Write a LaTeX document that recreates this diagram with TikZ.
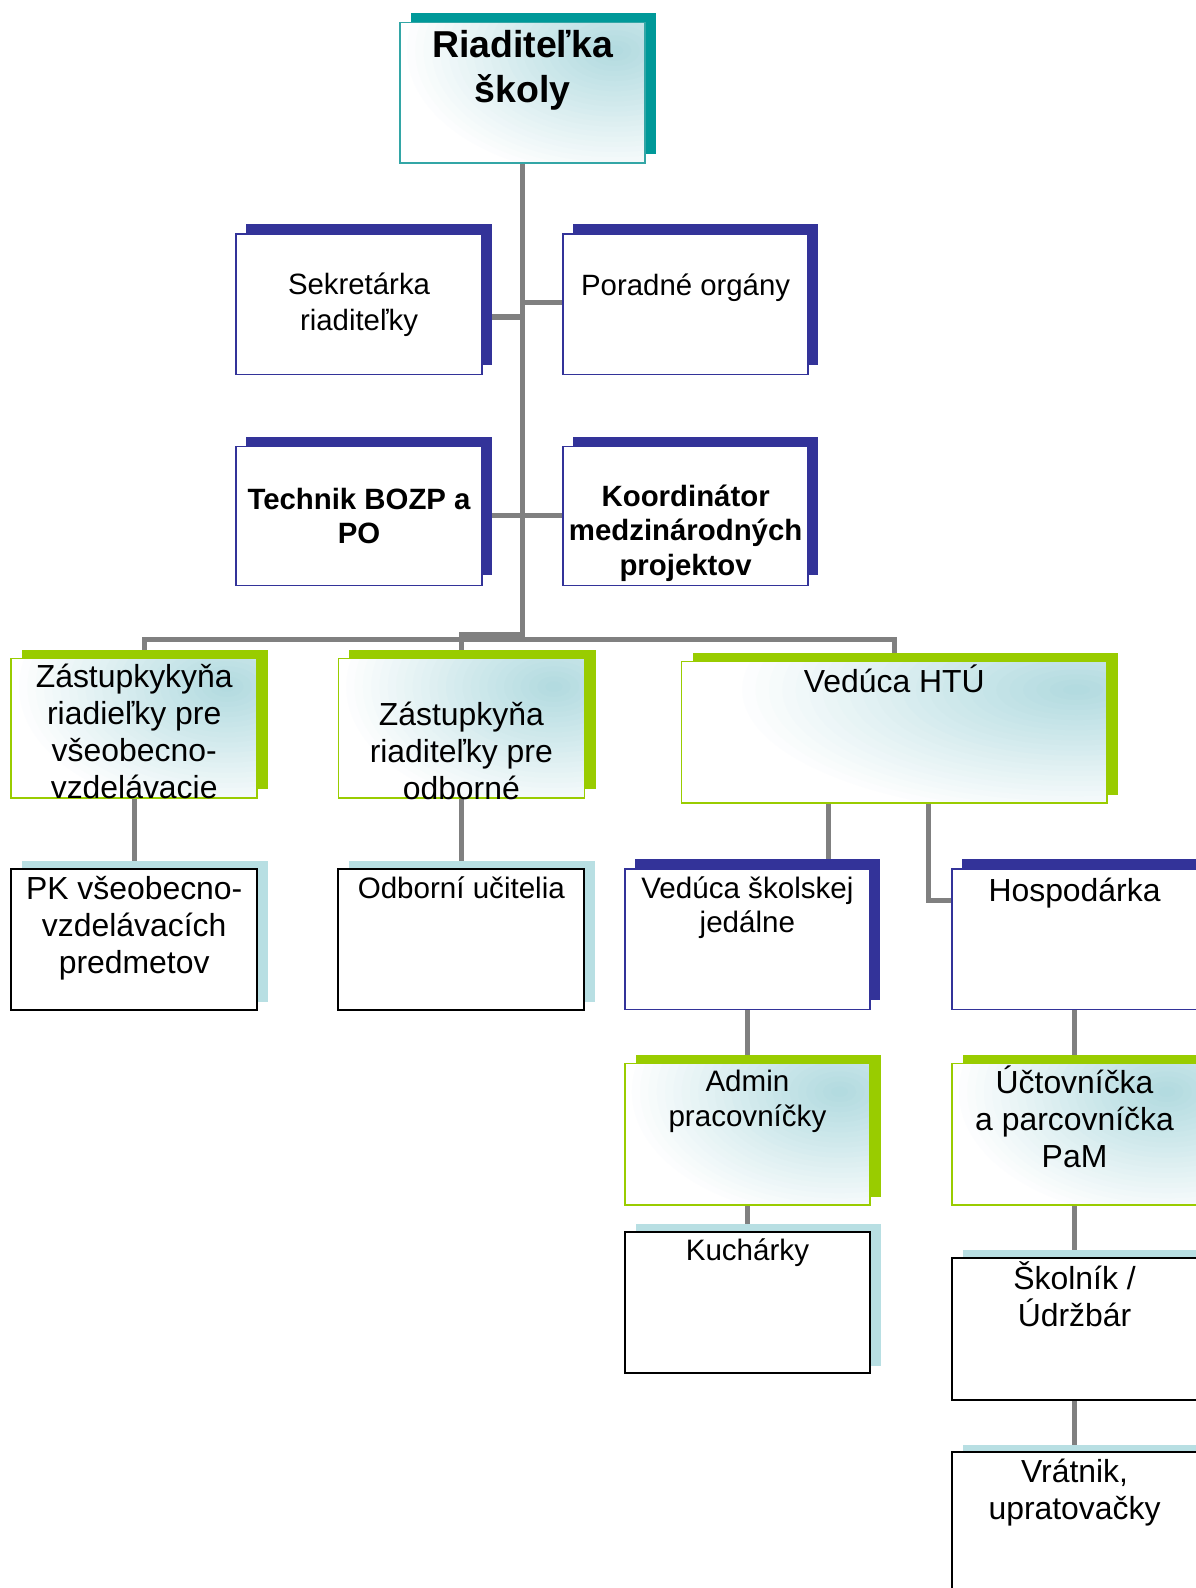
\documentclass[tikz,border=0pt]{standalone}
\usepackage{fontspec}
\setmainfont{Liberation Sans}
\usetikzlibrary{shadows,backgrounds,calc}
\definecolor{tealc}{HTML}{009999}
\definecolor{tealb}{HTML}{33A6A6}
\definecolor{navyc}{HTML}{333399}
\definecolor{greenc}{HTML}{99CC00}
\definecolor{lblue}{HTML}{B8DFE3}
\definecolor{gradc}{HTML}{B3DBE0}
\definecolor{connc}{HTML}{808080}
\newcommand\boxtext[4]{\parbox[c][#2pt][t]{#1pt}{\centering\rule{0pt}{#3pt}#4\par}}
\tikzset{
  base/.style={inner sep=0pt, outer sep=0pt},
  grad/.style={fill=white, path picture={
    \coordinate (glowc) at ($(path picture bounding box.north east)+(-30,28)$);
    \foreach \k in {1,...,25}{
      \pgfmathtruncatemacro\pc{4*\k}
      \pgfmathsetmacro\rx{#1*(26-\k)/25}
      \pgfmathsetmacro\ry{125*(26-\k)/25}
      \fill[gradc!\pc!white] (glowc) ellipse (\rx pt and \ry pt);
    }}},
  grad/.default=205,
  tealbox/.style={base, grad, draw=tealb, line width=1.5pt,
    general shadow={fill=tealc, shadow xshift=11pt, shadow yshift=9pt}},
  greenbox/.style={base, grad=#1, draw=greenc, line width=1.5pt,
    general shadow={fill=greenc, shadow xshift=11pt, shadow yshift=8.5pt}},
  greenbox/.default=205,
  navybox/.style={base, fill=white, draw=navyc, line width=1.5pt,
    general shadow={fill=navyc, shadow xshift=10pt, shadow yshift=10pt}},
  lbluebox/.style={base, fill=white, draw=black, line width=2pt,
    general shadow={fill=lblue, shadow xshift=10.5pt, shadow yshift=7.5pt}},
  big/.style={font=\fontsize{37}{44}\selectfont\bfseries},
  mid/.style={font=\fontsize{29}{35}\selectfont},
  midb/.style={font=\fontsize{29}{34}\selectfont\bfseries},
  low/.style={font=\fontsize{31.5}{36.5}\selectfont},
  lows/.style={font=\fontsize{29.2}{34}\selectfont},
  conn/.style={draw=connc, line width=5pt}
}
\begin{document}
\begin{tikzpicture}[x=1pt, y=-1pt]
\useasboundingbox (0,0) rectangle (1180,1568);
% boxes
\node[tealbox, big] (top) at (516,91.5) {\boxtext{242}{139}{35}{Riaditeľka\\školy}};
\node[navybox, mid] (sek) at (354.5,300.5) {\boxtext{243}{139}{60}{Sekretárka\\riaditeľky}};
\node[navybox, mid] (por) at (677,300.5) {\boxtext{242}{139}{61}{Poradné orgány}};
\node[navybox, midb] (tech) at (354.5,509.5) {\boxtext{243}{137}{62}{Technik BOZP a\\PO}};
\node[navybox, midb] (koord) at (677,509.5) {\boxtext{242}{137}{59}{Koordinátor\\medzinárodných\\projektov}};
\node[greenbox, low] (z1) at (132.5,719) {\boxtext{243}{138}{29}{Zástupkykyňa\\riadieľky pre\\všeobecno-\\vzdelávacie}};
\node[greenbox, low] (z2) at (455.5,719) {\boxtext{243}{138}{66}{Zástupkyňa\\riaditeľky pre\\odborné}};
\node[greenbox=330, low] (htu) at (883,723) {\boxtext{420}{140}{31}{Vedúca HTÚ}};
\node[lbluebox, low] (pk) at (132.5,927.5) {\boxtext{243}{139}{30}{PK všeobecno-\\vzdelávacích\\predmetov}};
\node[lbluebox, lows] (odb) at (455.5,927.5) {\boxtext{243}{139}{29}{Odborní učitelia}};
\node[navybox, lows] (vsj) at (738,927.5) {\boxtext{242}{139}{29}{Vedúca školskej\\jedálne}};
\node[navybox, low] (hosp) at (1061,927.5) {\boxtext{242}{139}{32}{Hospodárka}};
\node[greenbox, lows] (admin) at (738,1120) {\boxtext{242}{140}{28}{Admin\\pracovníčky}};
\node[greenbox, low] (uct) at (1061,1120) {\boxtext{242}{140}{30}{Účtovníčka\\a parcovníčka\\PaM}};
\node[lbluebox, lows] (kuch) at (738,1286) {\boxtext{242}{140}{29}{Kuchárky}};
\node[lbluebox, low] (skol) at (1061,1312) {\boxtext{242}{140}{31}{Školník /\\Údržbár}};
\node[lbluebox, low] (vrat) at (1061,1504) {\boxtext{242}{140}{30}{Vrátnik,\\upratovačky}};
% connectors
\coordinate (bus) at (516,631);
\coordinate (bus2) at (516,626.5);
\coordinate (j1) at (516,313);
\coordinate (j2) at (516,299);
\coordinate (j3) at (516,509);
\coordinate (h1) at (818,0);
\coordinate (k2) at (917,889);
\begin{pgfonlayer}{background}
\fill[white] (0,0) rectangle (1180,1568);
\draw[conn] (top.south) -- (bus);
\draw[conn] (sek.east |- j1) -- (j1);
\draw[conn] (j2) -- (por.west |- j2);
\draw[conn] (tech.east |- j3) -- (j3) -- (koord.west |- j3);
\draw[conn] (bus) -| ($(z1.north)+(10.5,0)$);
\draw[conn] (bus2) -| (z2.north);
\draw[conn] (bus) -| (htu.north);
\draw[conn] (z1.south) -- (pk.north);
\draw[conn] (z2.south) -- (odb.north);
\draw[conn] (htu.south -| h1) -- (vsj.north -| h1);
\draw[conn] (htu.south -| k2) -- (k2) -- (hosp.west |- k2);
\draw[conn] (vsj.south) -- (admin.north);
\draw[conn] (admin.south) -- (kuch.north);
\draw[conn] (hosp.south) -- (uct.north);
\draw[conn] (uct.south) -- (skol.north);
\draw[conn] (skol.south) -- (vrat.north);
\end{pgfonlayer}
\end{tikzpicture}
\end{document}
